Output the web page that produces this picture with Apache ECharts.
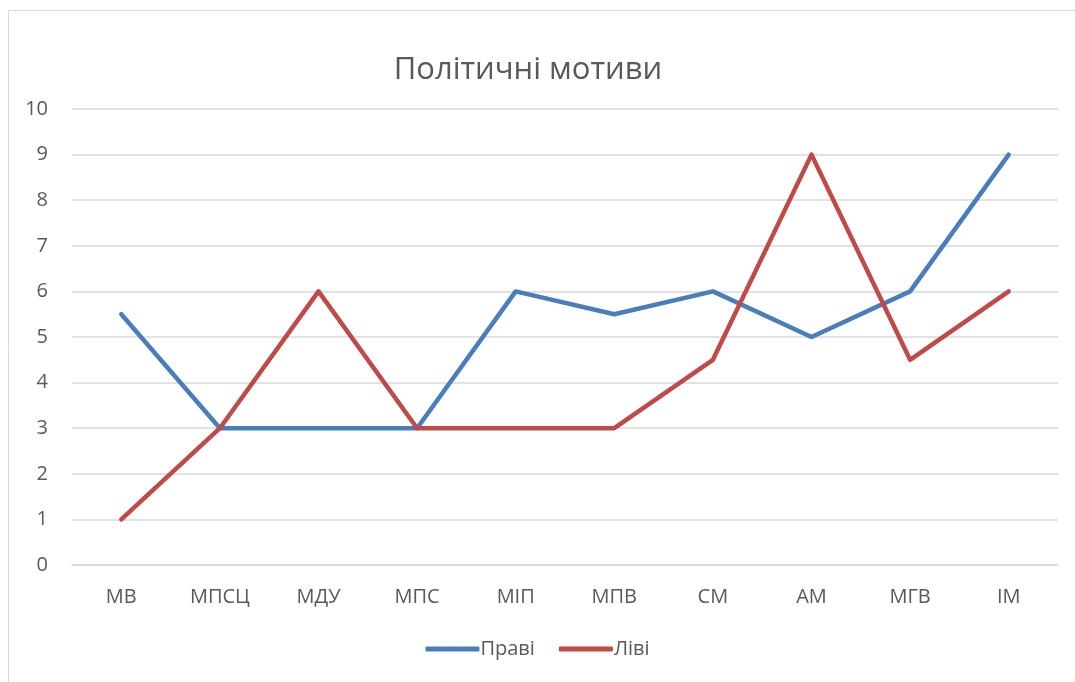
<!DOCTYPE html>
<html>
<head>
<meta charset="utf-8">
<script src="https://cdn.jsdelivr.net/npm/echarts@6/dist/echarts.min.js"></script>
<style>
  html, body { margin: 0; padding: 0; background: #fff; }
  #chart { width: 1075px; height: 682px; }
</style>
</head>
<body>
<div id="chart"></div>
<script>
// категорії та значення
var categories = ['МВ', 'МПСЦ', 'МДУ', 'МПС', 'МІП', 'МПВ', 'СМ', 'АМ', 'МГВ', 'ІМ'];
var pravi = [5.5, 3, 3, 3, 6, 5.5, 6, 5, 6, 9];
var livi = [1, 3, 6, 3, 3, 3, 4.5, 9, 4.5, 6];
var yTicks = [0, 10, 1];

var chart = echarts.init(document.getElementById('chart'));
var FONT = 'Open Sans';

var option = {
    animation: false,
    backgroundColor: '#fff',
    textStyle: { fontFamily: FONT },
    title: {
        text: 'Політичні мотиви',
        left: 523,
        textAlign: 'center',
        top: 50,
        textStyle: { fontFamily: FONT, fontSize: 31, fontWeight: 'normal', color: '#595959' }
    },
    legend: {
        bottom: 18,
        left: 'center',
        itemWidth: 54,
        itemHeight: 5,
        itemGap: 24,
        icon: 'roundRect',
        textStyle: { fontFamily: FONT, fontSize: 20, color: '#595959', padding: [0, 0, 0, -4] },
        data: ['Праві', 'Ліві']
    },
    grid: { left: 72, right: 17, top: 109, bottom: 117, containLabel: false },
    graphic: [{
        type: 'rect',
        z: -1,
        shape: { x: 8.5, y: 10.5, width: 1100, height: 700 },
        style: { fill: 'none', stroke: '#d9d9d9', lineWidth: 1 }
    }],
    xAxis: {
        type: 'category',
        data: categories,
        boundaryGap: true,
        axisLine: { show: true, lineStyle: { color: '#d9d9d9', width: 1.5 } },
        axisTick: { show: false },
        axisLabel: { fontFamily: FONT, fontSize: 20, color: '#595959', margin: 22 }
    },
    yAxis: {
        type: 'value',
        min: yTicks[0],
        max: yTicks[1],
        interval: yTicks[2],
        axisLine: { show: false },
        axisTick: { show: false },
        axisLabel: { fontFamily: FONT, fontSize: 20, color: '#595959', margin: 24 },
        splitLine: { lineStyle: { color: '#d9d9d9', width: 1.5 } }
    },
    series: [{
        name: 'Праві',
        type: 'line',
        data: pravi,
        symbol: 'none',
        color: '#4a7ebb',
        lineStyle: { width: 4.5, cap: 'round', join: 'round' }
    }, {
        name: 'Ліві',
        type: 'line',
        data: livi,
        symbol: 'none',
        color: '#be4b48',
        lineStyle: { width: 4.5, cap: 'round', join: 'round' }
    }]
};
chart.setOption(option);
</script>
</body>
</html>
